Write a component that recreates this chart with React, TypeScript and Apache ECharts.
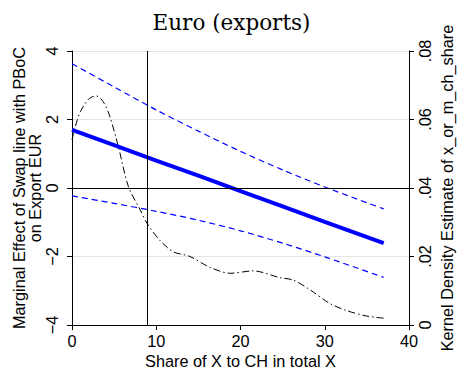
import React, { useEffect, useRef } from "react";
import * as echarts from "echarts";

// Fitted marginal effect and 95% CI (left axis)
const ciX = [0, 5, 10, 15, 20, 25, 30, 37];
const fitted = [1.7, 1.25, 0.8, 0.36, -0.09, -0.54, -0.99, -1.61];
const upper = [3.63, 2.95, 2.28, 1.66, 1.07, 0.53, 0.03, -0.61];
const lower = [-0.23, -0.45, -0.68, -0.94, -1.25, -1.61, -2.01, -2.61];

// Kernel density estimate (right axis)
const kdX = [0, 0.4, 1.0, 2.0, 2.85, 3.7, 4.5, 5.5, 6.7, 8.1, 8.9, 10.4, 12.0, 14.0, 16.4, 18.8, 21.5, 24.7, 26.3, 28.3, 30.6, 32.6, 35.0, 37.0];
const kdY = [0.054, 0.058, 0.0623, 0.066, 0.0669, 0.0652, 0.0608, 0.0521, 0.0404, 0.0336, 0.0297, 0.0248, 0.0214, 0.02, 0.0168, 0.0151, 0.0158, 0.0138, 0.0131, 0.0102, 0.0063, 0.0042, 0.0026, 0.002];

const xLine = 8.9;

const pairs = (xs: number[], ys: number[]) => xs.map((x, i) => [x, ys[i]]);

export default function App() {
  const ref = useRef<HTMLDivElement>(null);
  useEffect(() => {
    if (!ref.current) return;
    const chart = echarts.init(ref.current, null, { renderer: "svg" });
    const sans = "Liberation Sans";
    const fs = 16.3;
    chart.setOption({
      animation: false,
      backgroundColor: "#ffffff",
      title: {
        text: "Euro (exports)",
        left: "center",
        top: 6,
        textStyle: { fontFamily: "DejaVu Serif", fontSize: 21.5, fontWeight: "normal", color: "#000" },
      },
      grid: { left: 72, right: 54, top: 51, bottom: 55, containLabel: false, outerBoundsMode: "none" },
      xAxis: {
        type: "value",
        min: 0,
        max: 40,
        interval: 10,
        name: "Share of X to CH in total X",
        nameLocation: "middle",
        nameGap: 28,
        nameMoveOverlap: false,
        nameTextStyle: { fontFamily: sans, fontSize: fs, color: "#000" },
        axisLine: { show: true, onZero: false, lineStyle: { color: "#000", width: 1 } },
        axisTick: { show: true, length: 5, lineStyle: { color: "#000" } },
        axisLabel: { fontFamily: sans, fontSize: fs, color: "#000", margin: 8 },
        splitLine: { show: false },
      },
      yAxis: [
        {
          type: "value",
          min: -4,
          max: 4,
          interval: 2,
          name: "Marginal Effect of Swap line with PBoC\non Export EUR",
          nameLocation: "middle",
          nameRotate: 90,
          nameGap: 29,
          nameMoveOverlap: false,
          nameTextStyle: { fontFamily: sans, fontSize: fs, color: "#000", lineHeight: 16 },
          axisLine: { show: true, onZero: false, lineStyle: { color: "#000", width: 1 } },
          axisTick: { show: true, length: 5, lineStyle: { color: "#000" } },
          axisLabel: {
            fontFamily: sans,
            fontSize: fs,
            color: "#000",
            rotate: 90,
            margin: 12,
            formatter: (v: number) => String(v).replace("-", "\u2212"),
          },
          splitLine: { show: true, lineStyle: { color: "#e4e4e4", width: 1 } },
        },
        {
          type: "value",
          min: 0,
          max: 0.08,
          interval: 0.02,
          position: "right",
          name: "Kernel Density Estimate of x_or_m_ch_share",
          nameLocation: "middle",
          nameRotate: 90,
          nameGap: 30,
          nameMoveOverlap: false,
          nameTextStyle: { fontFamily: sans, fontSize: fs, color: "#000" },
          axisLine: { show: true, onZero: false, lineStyle: { color: "#000", width: 1 } },
          axisTick: { show: true, length: 5, lineStyle: { color: "#000" } },
          axisLabel: {
            fontFamily: sans,
            fontSize: fs,
            color: "#000",
            rotate: 90,
            margin: 8,
            formatter: (v: number) => (v === 0 ? "0" : String(Number(v.toFixed(2))).replace(/^0/, "")),
          },
          splitLine: { show: false },
        },
      ],
      series: [
        {
          type: "line",
          yAxisIndex: 1,
          data: pairs(kdX, kdY),
          smooth: 0.3,
          symbol: "none",
          lineStyle: { color: "#000", width: 1, type: [7, 3, 1.5, 3] },
          z: 2,
        },
        {
          type: "line",
          data: pairs(ciX, upper),
          smooth: 0.3,
          symbol: "none",
          lineStyle: { color: "#0000ff", width: 1.2, type: [6, 4] },
          z: 3,
        },
        {
          type: "line",
          data: pairs(ciX, lower),
          smooth: 0.3,
          symbol: "none",
          lineStyle: { color: "#0000ff", width: 1.2, type: [6, 4] },
          z: 3,
        },
        {
          type: "line",
          data: pairs(ciX, fitted),
          symbol: "none",
          lineStyle: { color: "#0000ff", width: 4 },
          z: 4,
          markLine: {
            silent: true,
            symbol: "none",
            label: { show: false },
            lineStyle: { color: "#000", width: 1, type: "solid" },
            data: [{ yAxis: 0 }, { xAxis: xLine }],
          },
        },
      ],
    });
    return () => chart.dispose();
  }, []);
  return <div ref={ref} style={{ position: "fixed", left: 0, top: 0, width: 463, height: 380 }} />;
}
